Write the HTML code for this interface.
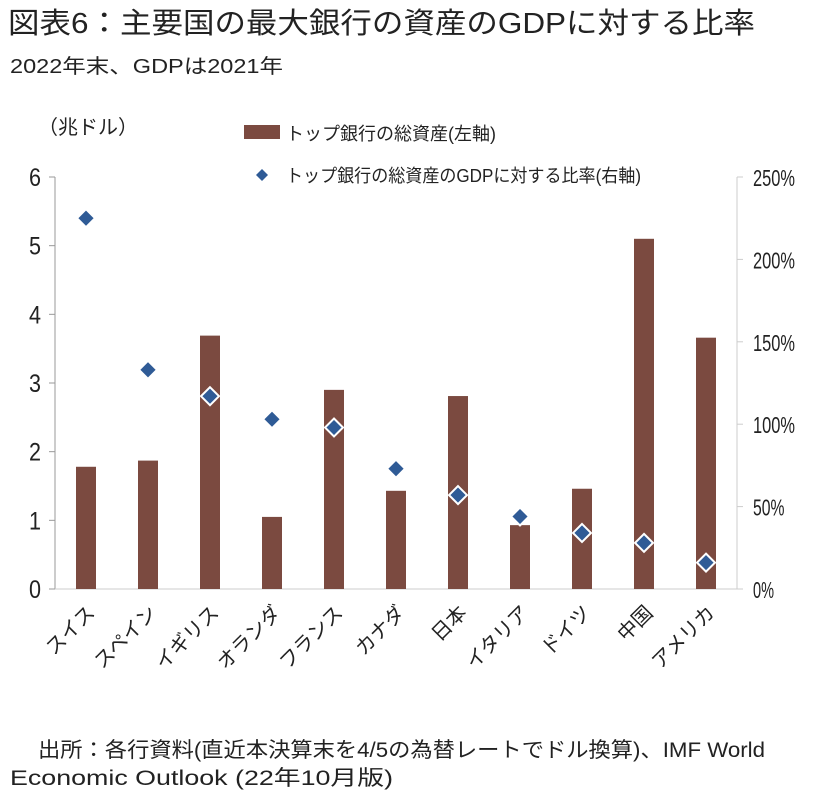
<!DOCTYPE html>
<html><head><meta charset="utf-8">
<style>
body{margin:0;background:#fff;font-family:"Liberation Sans","Noto Sans CJK JP",sans-serif;}
svg text{font-family:"Liberation Sans","Noto Sans CJK JP",sans-serif;}
</style></head>
<body>
<svg id="c" width="820" height="801" viewBox="0 0 820 801">
<text x="8" y="33" font-size="29" fill="#222" textLength="747" lengthAdjust="spacingAndGlyphs">図表6：主要国の最大銀行の資産のGDPに対する比率</text>
<text x="10" y="73" font-size="20" fill="#222" textLength="273" lengthAdjust="spacingAndGlyphs">2022年末、GDPは2021年</text>
<text x="38" y="134" font-size="20" fill="#222">（兆ドル）</text>
<rect x="244" y="125" width="36" height="14" fill="#7b4a40"/>
<text x="286" y="140" font-size="18" fill="#222" textLength="210" lengthAdjust="spacingAndGlyphs">トップ銀行の総資産(左軸)</text>
<path d="M262 169 L268 175 L262 181 L256 175 Z" fill="#2f5b96"/>
<text x="286" y="182" font-size="18" fill="#222" textLength="355" lengthAdjust="spacingAndGlyphs">トップ銀行の総資産のGDPに対する比率(右軸)</text>
<g id="plot"></g>
<text x="38" y="757" font-size="21" fill="#222" textLength="727" lengthAdjust="spacingAndGlyphs">出所：各行資料(直近本決算末を4/5の為替レートでドル換算)、IMF World</text>
<text x="10" y="785" font-size="21" fill="#222" textLength="383" lengthAdjust="spacingAndGlyphs">Economic Outlook (22年10月版)</text>
</svg>
<script>
const categories=["スイス","スペイン","イギリス","オランダ","フランス","カナダ","日本","イタリア","ドイツ","中国","アメリカ"];
const assets=[1.78,1.87,3.69,1.05,2.9,1.43,2.81,0.93,1.46,5.1,3.66];
const ratios=[225,133,117,103,98,73,57,44,34,28,16];
const leftTicks=[0,1,2,3,4,5,6];
const rightTicks=[0,50,100,150,200,250];
const rightTickLabels=["0%","50%","100%","150%","200%","250%"];
const NS="http://www.w3.org/2000/svg";
const g=document.getElementById('plot');
const X0=55,X1=737,Y0=589,Y1=177;
const bw=(X1-X0)/categories.length;
const yL=v=>Y0-(v/6)*(Y0-Y1);
const yR=v=>Y0-(v/250)*(Y0-Y1);
const xC=i=>X0+bw*(i+0.5);
function mk(t,a){const e=document.createElementNS(NS,t);for(const k in a)e.setAttribute(k,a[k]);g.appendChild(e);return e;}
let e;
e=mk('line',{x1:X0,y1:Y1,x2:X0,y2:Y0,stroke:'#999'});


e=mk('line',{x1:X1,y1:Y1,x2:X1,y2:Y0,stroke:'#ccc'});


e=mk('line',{x1:X0,y1:Y0,x2:X1,y2:Y0,stroke:'#ccc'});


leftTicks.forEach(v=>{
 mk('line',{x1:X0-6,x2:X0,y1:yL(v),y2:yL(v),stroke:'#999'});
 e=mk('text',{x:29,y:yL(v)+9,'font-size':25,fill:'#222',textLength:12,lengthAdjust:'spacingAndGlyphs'});
 e.textContent=v;
 
 
});
rightTicks.forEach((v,i)=>{
 mk('line',{x1:X1,x2:X1+6,y1:yR(v),y2:yR(v),stroke:'#ccc'});
 e=mk('text',{x:753,y:yR(v)+9,'font-size':23,fill:'#222',textLength:rightTickLabels[i].length*10.5,lengthAdjust:'spacingAndGlyphs'});
 e.textContent=rightTickLabels[i];
 
 
});
categories.forEach((c,i)=>{
 e=mk('rect',{x:xC(i)-10,y:yL(assets[i]),width:20,height:Y0-yL(assets[i]),fill:'#7b4a40'});
 
 
});
categories.forEach((c,i)=>{
 const x=xC(i),y=yR(ratios[i]);
 e=mk('path',{d:`M${x} ${y-9} L${x+9} ${y} L${x} ${y+9} L${x-9} ${y} Z`,fill:'#2f5b96',stroke:'#fff','stroke-width':2});
 
 
 e=mk('text',{x:x+10,y:614,'font-size':20,'text-anchor':'end',fill:'#222',transform:`rotate(-45 ${x+10} 614)`});
 e.textContent=c;
 
 
});
</script>
</body></html>
